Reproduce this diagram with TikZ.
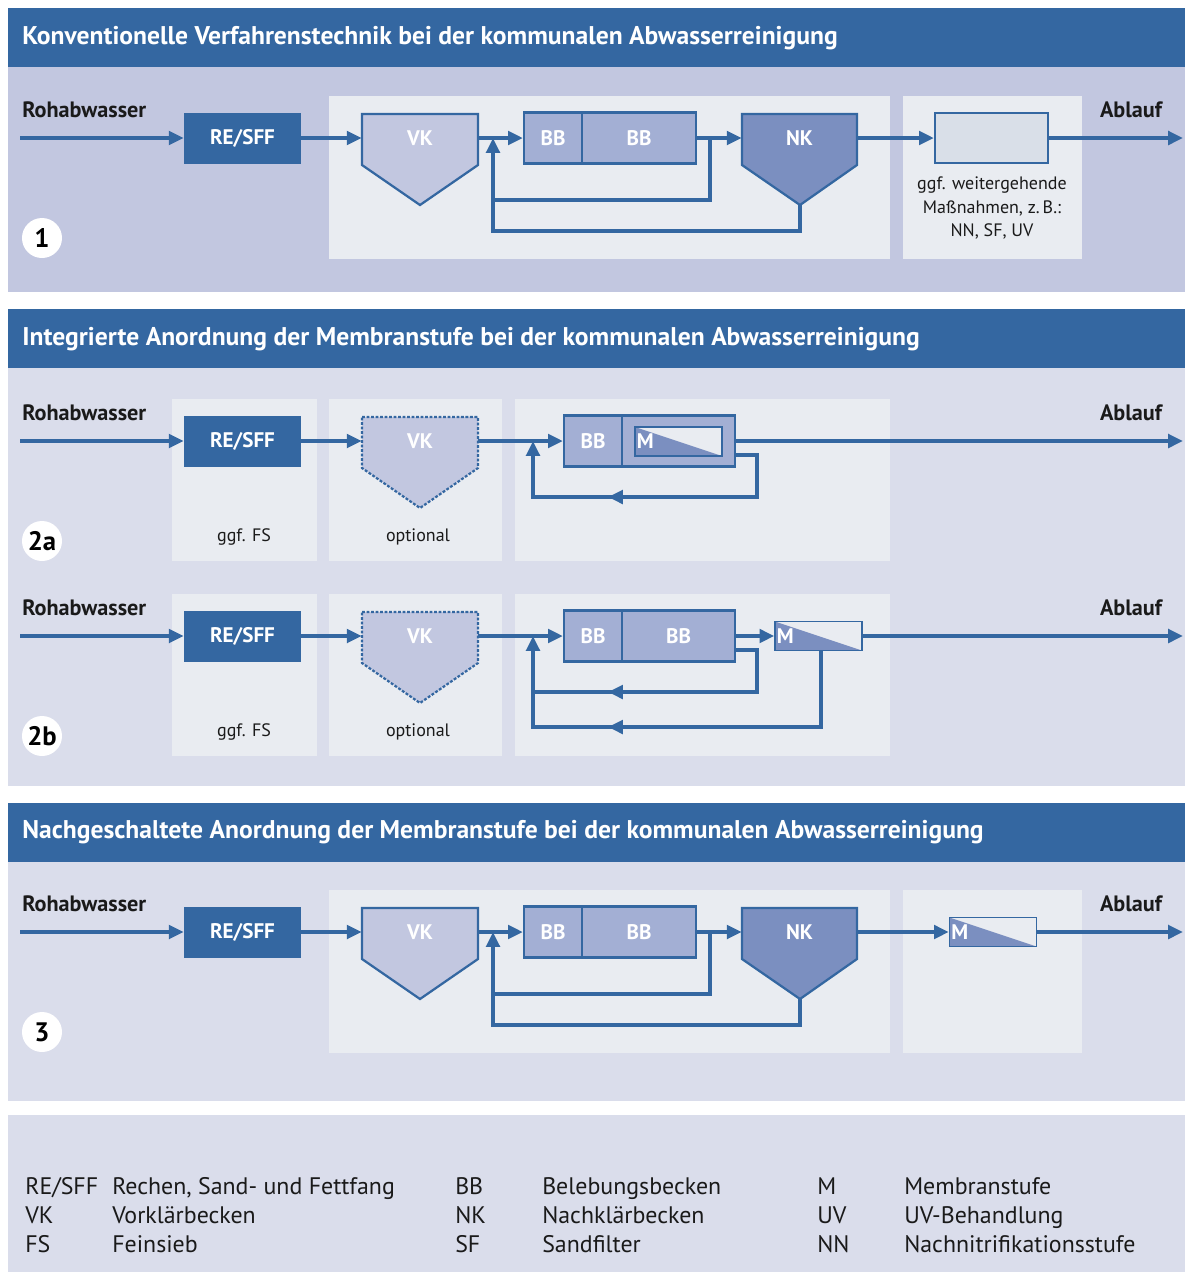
\documentclass[tikz,border=0pt]{standalone}
\usepackage{fontspec}
\setmainfont{PT Sans}
\usetikzlibrary{arrows.meta}
\definecolor{kopfblau}{HTML}{3467A1}
\definecolor{feld1}{HTML}{C2C7E0}
\definecolor{feld2}{HTML}{DADDEB}
\definecolor{hell}{HTML}{E9ECF1}
\definecolor{bbfill}{HTML}{A3AFD4}
\definecolor{nkfill}{HTML}{7B8FC0}
\definecolor{ggffill}{HTML}{D9DFE8}
\definecolor{schrift}{HTML}{1A1A1A}
\tikzset{>/.tip={Triangle[length=10.5pt,width=9.5pt]}}
\tikzset{
  kopf/.style={anchor=west, inner xsep=0pt, text=white, font=\fontsize{18.2}{20}\selectfont\bfseries},
  roh/.style={text=schrift, font=\fontsize{15.8}{18}\selectfont\bfseries},
  klein/.style={text=schrift, font=\fontsize{12.8}{16.5}\selectfont, align=center},
  legende/.style={anchor=base west, inner xsep=0pt, text=schrift, font=\fontsize{17}{20}\selectfont},
  rohr/.style={draw=kopfblau, line width=2.6pt},
  resff/.style={fill=kopfblau, text=white, font=\fontsize{15}{17}\selectfont\bfseries,
    minimum width=2.925cm, minimum height=1.275cm, inner sep=0pt},
  bbl/.style={draw=kopfblau, line width=1.6pt, fill=bbfill, text=white,
    font=\fontsize{15}{17}\selectfont\bfseries, minimum width=1.45cm, minimum height=1.275cm, inner sep=0pt},
  bbr/.style={bbl, minimum width=2.85cm},
  becken/.style={text=white, font=\fontsize{15}{17}\selectfont\bfseries,
    minimum width=2.9cm, minimum height=1.275cm, inner sep=0pt},
  ggfbox/.style={draw=kopfblau, line width=1.6pt, fill=ggffill, minimum width=2.825cm, minimum height=1.25cm},
  mbox/.style={draw=kopfblau, line width=1pt, fill=hell, text=white, font=\fontsize{15}{17}\selectfont\bfseries,
    text width=2.075cm, align=left, inner xsep=0.05cm, inner ysep=0pt, minimum height=0.725cm,
    path picture={\fill[nkfill] (path picture bounding box.north west) -- (path picture bounding box.south east)
      -- (path picture bounding box.south west) -- cycle;}},
  kreis/.style={circle, fill=white, text=black, font=\fontsize{19}{20}\selectfont\bfseries, minimum size=1cm, inner sep=0pt}
}

\begin{document}
\begin{tikzpicture}[x=0.025cm, y=-0.025cm]
\useasboundingbox (0,0) rectangle (1187,1272);
% Felder und Kopfleisten
\fill[feld1] (8,67) rectangle (1185,292);
\fill[feld2] (8,368) rectangle (1185,786);
\fill[feld2] (8,862) rectangle (1185,1101);
\fill[feld2] (8,1115) rectangle (1185,1272);
\foreach \y in {8,309,803}
  \fill[kopfblau] (8,\y) rectangle (1185,{\y+59});
\node[kopf] (kopf1) at (22,38) {Konventionelle Verfahrenstechnik bei der kommunalen Abwasserreinigung};
\node[kopf] (kopf2) at (22,339) {Integrierte Anordnung der Membranstufe bei der kommunalen Abwasserreinigung};
\node[kopf] (kopf3) at (22,832) {Nachgeschaltete Anordnung der Membranstufe bei der kommunalen Abwasserreinigung};

% Varianten 1 und 3
\foreach \dy/\p/\nr in {0/a/1, 794/c/3}
{
  \fill[hell] (329,{96+\dy}) rectangle (890,{259+\dy});
  \fill[hell] (903,{96+\dy}) rectangle (1082,{259+\dy});
  \filldraw[fill=feld1, draw=kopfblau, line width=1.6pt] (362,{114+\dy}) -- (478,{114+\dy}) -- (478,{165+\dy}) -- (420,{205+\dy}) -- (362,{165+\dy}) -- cycle;
  \filldraw[fill=nkfill, draw=kopfblau, line width=1.6pt] (742,{114+\dy}) -- (857,{114+\dy}) -- (857,{165+\dy}) -- (800,{205+\dy}) -- (742,{165+\dy}) -- cycle;
  \node[roh, anchor=west, inner xsep=0pt] (roh\p) at (22,{110+\dy}) {Rohabwasser};
  \node[roh] (ab\p) at (1131,{110+\dy}) {Ablauf};
  \coordinate (ein\p) at (20,{138+\dy});
  \coordinate (aus\p) at (1183,{138+\dy});
  \node[resff] (re\p) at (242.5,{138+\dy}) {RE/SFF};
  \node[becken] (vk\p) at (420,{138+\dy}) {VK};
  \node[bbl] (bba\p) at (553,{138+\dy}) {BB};
  \node[bbr] (bbb\p) at (639,{138+\dy}) {BB};
  \node[becken, minimum width=2.875cm] (nk\p) at (799.5,{138+\dy}) {NK};
  \coordinate (j\p) at (493,{138+\dy});
  \coordinate (k\p) at (710,{138+\dy});
  \coordinate (nkb\p) at (800,{205+\dy});
  \node[kreis] (nr\p) at (42,{238+\dy}) {\nr};
  \draw[rohr,->] (ein\p) -- (re\p.west);
  \draw[rohr,->] (re\p.east) -- (vk\p.west);
  \draw[rohr,->] (vk\p.east) -- (bba\p.west);
  \draw[rohr,->] (bbb\p.east) -- (nk\p.west);
  \draw[rohr,->] (k\p) -- ++(0,62) -| (j\p);
  \draw[rohr] (nkb\p) -- ++(0,26) -| ([yshift=-1pt]j\p |- 0,{200+\dy});
}
\node[ggfbox] (massa) at (991.5,138) {};
\node[klein] (ggf) at (992,208) {ggf. weitergehende\\Maßnahmen, z.\,B.:\\NN, SF, UV};
\draw[rohr,->] (nka.east) -- (massa.west);
\draw[rohr,->] (massa.east) -- (ausa);
\node[mbox] (mc) at (993,932) {M};
\draw[rohr,->] (nkc.east) -- (mc.west);
\draw[rohr,->] (mc.east) -- (ausc);

% Varianten 2a und 2b
\foreach \y/\p/\nr in {441/b/2a, 636/d/2b}
{
  \fill[hell] (172,{\y-42}) rectangle (317,{\y+120});
  \fill[hell] (329,{\y-42}) rectangle (502,{\y+120});
  \fill[hell] (515,{\y-42}) rectangle (890,{\y+120});
  \filldraw[fill=feld1, draw=kopfblau, line width=1.6pt, dash pattern=on 2pt off 1.2pt] (362,{\y-24}) -- (478,{\y-24}) -- (478,{\y+27}) -- (420,{\y+67}) -- (362,{\y+27}) -- cycle;
  \node[roh, anchor=west, inner xsep=0pt] (roh\p) at (22,{\y-28}) {Rohabwasser};
  \node[roh] (ab\p) at (1131,{\y-28}) {Ablauf};
  \coordinate (ein\p) at (20,\y);
  \coordinate (aus\p) at (1183,\y);
  \node[resff] (re\p) at (242.5,\y) {RE/SFF};
  \node[becken] (vk\p) at (420,\y) {VK};
  \node[bbl] (bba\p) at (593,\y) {BB};
  \node[klein] (fs\p) at (244,{\y+96}) {ggf. FS};
  \node[klein] (opt\p) at (418,{\y+96}) {optional};
  \coordinate (j\p) at (533,\y);
  \node[kreis] (nr\p) at (42,{\y+100}) {\nr};
  \draw[rohr,->] (ein\p) -- (re\p.west);
  \draw[rohr,->] (re\p.east) -- (vk\p.west);
  \draw[rohr,->] (vk\p.east) -- (bba\p.west);
}
% 2a
\node[bbr, minimum width=2.825cm] (bbbb) at (678.5,441) {};
\node[mbox, line width=1.6pt] (mb) at (678.5,441.5) {M};
\draw[rohr,->] (bbbb.east) -- (ausb);
\draw[rohr,->] ([yshift=-10pt]bbbb.east) -| (757,497) -- (608,497);
\draw[rohr,->] (615,497) -| (jb);
% 2b
\node[bbr, minimum width=2.825cm] (bbbd) at (678.5,636) {BB};
\node[mbox] (md) at (818.5,636) {M};
\draw[rohr,->] (bbbd.east) -- (md.west);
\draw[rohr,->] (md.east) -- (ausd);
\draw[rohr,->] ([yshift=-10pt]bbbd.east) -| (757,692) -- (608,692);
\draw[rohr] (615,692) -- (533,692);
\draw[rohr,->] ([xshift=2pt]md.south) |- (608,727);
\draw[rohr,->] (615,727) -| (jd);

% Legende
\foreach \x/\y/\k/\t [count=\i] in {
  25/1194/{RE/SFF}/{Rechen, Sand- und Fettfang}, 25/1223/VK/Vorklärbecken, 25/1252/FS/Feinsieb,
  455/1194/BB/Belebungsbecken, 455/1223/NK/Nachklärbecken, 455/1252/SF/Sandfilter,
  817/1194/M/Membranstufe, 817/1223/UV/UV-Behandlung, 817/1252/NN/Nachnitrifikationsstufe}
{
  \node[legende] (abk\i) at (\x,\y) {\k};
  \node[legende] (text\i) at ({\x+87},\y) {\t};
}
\end{tikzpicture}
\end{document}
